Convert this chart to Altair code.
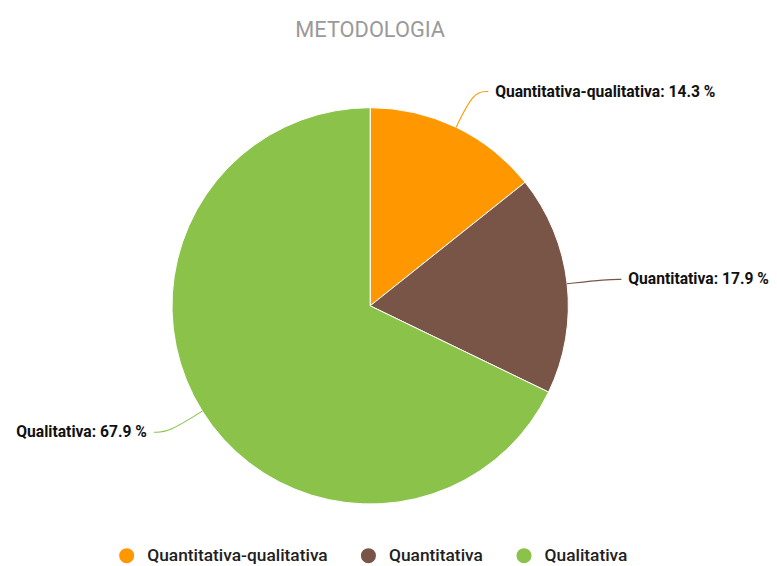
import altair as alt
import pandas as pd

cats = ["Quantitativa-qualitativa", "Quantitativa", "Qualitativa"]
values = [14.3, 17.9, 67.9]
colors = ["#FF9800", "#795548", "#8BC34A"]
order = [0, 1, 2]

W, H = 731, 524
R = 200

df = pd.DataFrame({"cat": cats, "value": values, "order": order})

xs = alt.Scale(domain=[-W / 2, W / 2], nice=False, zero=False)
ys = alt.Scale(domain=[-H / 2, H / 2], nice=False, zero=False)
cs = alt.Scale(domain=cats, range=colors)

base = (
    alt.Chart(df)
    .transform_joinaggregate(total="sum(value)")
    .transform_window(cum="sum(value)", sort=[alt.SortField("order")], frame=[None, 0])
    .transform_calculate(mid="(datum.cum - datum.value / 2) / datum.total * 2 * PI")
    .transform_calculate(side="sin(datum.mid) >= 0 ? 1 : -1")
)

arcs = alt.Chart(df).mark_arc(outerRadius=R, stroke="white", strokeWidth=1).encode(
    theta=alt.Theta("value:Q", stack=True),
    color=alt.Color(
        "cat:N",
        scale=cs,
        legend=alt.Legend(
            orient="none", direction="horizontal", legendX=111, legendY=505,
            title=None, symbolType="circle", symbolSize=230, symbolStrokeWidth=0,
            labelFont="Roboto", labelFontSize=17.5, labelFontWeight=500, labelLimit=400,
            labelColor="#212121", columnPadding=32, labelOffset=12,
        ),
    ),
    order=alt.Order("order:Q"),
)

lines = (
    base.transform_calculate(steps="[0, 1, 2]")
    .transform_flatten(["steps"])
    .transform_calculate(r=f"datum.steps == 0 ? {R} : {R + 40}")
    .transform_calculate(
        px="datum.r * sin(datum.mid) + (datum.steps == 2 ? datum.side * 15 : 0)"
    )
    .transform_calculate(py="datum.r * cos(datum.mid)")
    .mark_line(strokeWidth=1.1, interpolate="basis")
    .encode(
        x=alt.X("px:Q", scale=xs, axis=None),
        y=alt.Y("py:Q", scale=ys, axis=None),
        color=alt.Color("cat:N", scale=cs),
        detail="cat:N",
        order="steps:Q",
    )
)

lab = base.transform_calculate(
    lx=f"{R + 40} * sin(datum.mid) + datum.side * 22",
    ly=f"{R + 40} * cos(datum.mid)",
    label="datum.cat + ': ' + format(datum.value, '.1f') + ' %'",
)

txt_kw = dict(font="Roboto", fontSize=15.8, fontWeight="bold", color="#111111", baseline="middle")
right = lab.transform_filter("datum.side > 0").mark_text(align="left", **txt_kw).encode(
    x=alt.X("lx:Q", scale=xs, axis=None), y=alt.Y("ly:Q", scale=ys, axis=None), text="label:N"
)
left = lab.transform_filter("datum.side < 0").mark_text(align="right", **txt_kw).encode(
    x=alt.X("lx:Q", scale=xs, axis=None), y=alt.Y("ly:Q", scale=ys, axis=None), text="label:N"
)

chart = (
    alt.layer(arcs, lines, right, left)
    .properties(
        width=W, height=H,
        title=alt.TitleParams("METODOLOGIA", font="Roboto", fontSize=22, fontWeight="normal",
                              color="#9A9A9A", anchor="middle", offset=4),
        padding={"top": 9, "left": 0, "right": 0, "bottom": 0},
    )
    .configure(background="white", view=alt.ViewConfig(stroke=None))
)

chart.save("out.html", embed_options={"renderer": "svg", "actions": False})
